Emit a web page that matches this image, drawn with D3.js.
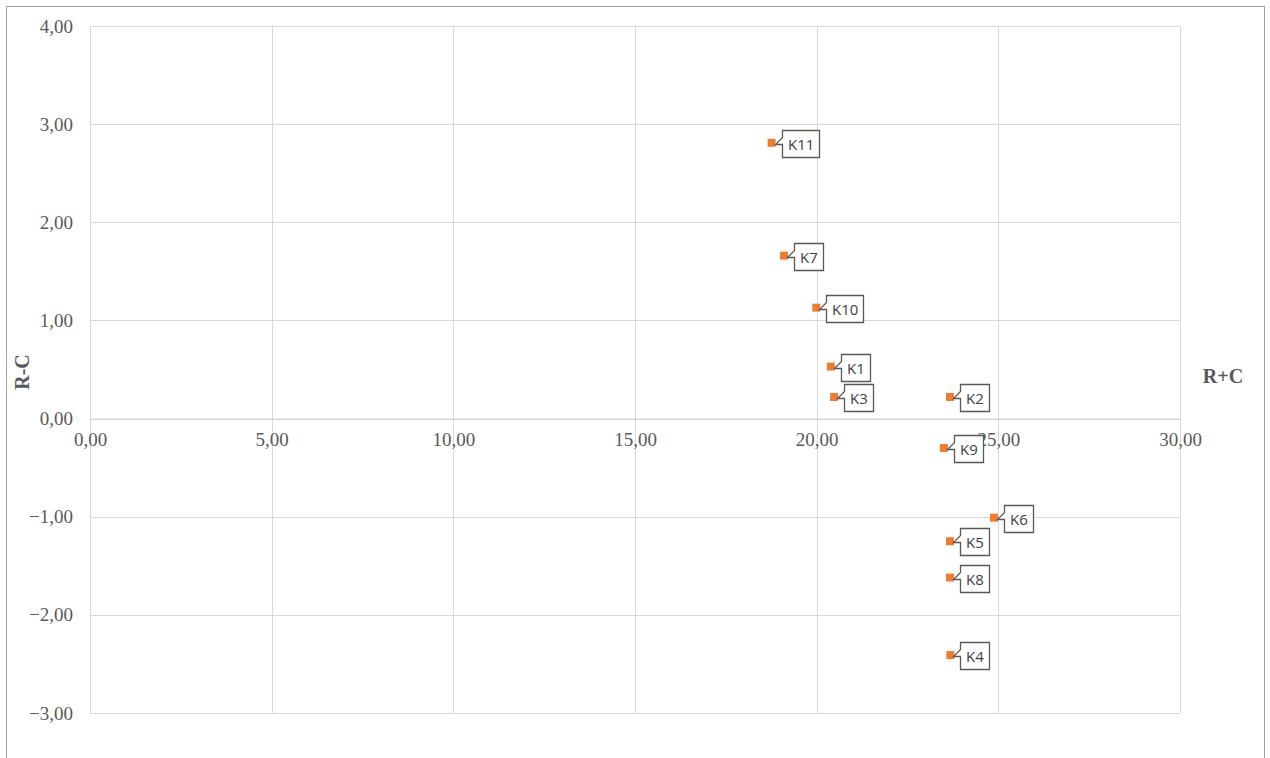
<!DOCTYPE html>
<html>
<head>
<meta charset="utf-8">
<script src="https://cdn.jsdelivr.net/npm/d3@7"></script>
<style>
  body { margin: 0; background: #fff; }
</style>
</head>
<body>
<div id="chart-area"></div>
<script>
// data
const names = ['K1','K2','K3','K4','K5','K6','K7','K8','K9','K10','K11']
const sumRC = [20.39, 23.67, 20.48, 23.68, 23.67, 24.88, 19.10, 23.67, 23.50, 19.99, 18.76]
const diffRC = [0.53, 0.22, 0.22, -2.41, -1.25, -1.01, 1.66, -1.62, -0.30, 1.13, 2.81]
const xTicks = [0, 5, 10, 15, 20, 25, 30]
const yTicks = [-3, -2, -1, 0, 1, 2, 3, 4]

const W = 1270, H = 758
const MARGIN = { LEFT: 90, RIGHT: 90, TOP: 26, BOTTOM: 45 }
const WIDTH = W - MARGIN.LEFT - MARGIN.RIGHT
const HEIGHT = H - MARGIN.TOP - MARGIN.BOTTOM

const fmt = d => d3.format('.2f')(d).replace('.', ',')

const svg = d3.select('#chart-area')
.append('svg')
.attr('width', W)
.attr('height', H)

// chart frame (bottom edge runs off the page)
svg.append('rect')
.attr('x', 6.5).attr('y', 6.5)
.attr('width', 1258).attr('height', 800)
.attr('fill', 'none')
.attr('stroke', '#a0a0a0')

const g = svg.append('g')
.attr('transform', `translate(${MARGIN.LEFT},${MARGIN.TOP})`)

const x = d3.scaleLinear().domain([0, 30]).range([0, WIDTH])
const y = d3.scaleLinear().domain([-3, 4]).range([HEIGHT, 0])

// gridlines
g.append('g')
.selectAll('line')
.data(xTicks)
.enter().append('line')
.attr('x1', d => Math.round(x(d)) + 0.5).attr('x2', d => Math.round(x(d)) + 0.5)
.attr('y1', 0).attr('y2', HEIGHT)
.attr('stroke', '#d9d9d9')

g.append('g')
.selectAll('line')
.data(yTicks)
.enter().append('line')
.attr('x1', 0).attr('x2', WIDTH)
.attr('y1', d => Math.round(y(d)) + 0.5).attr('y2', d => Math.round(y(d)) + 0.5)
.attr('stroke', '#d9d9d9')

// y axis labels
const yAxisCall = d3.axisLeft(y).tickValues(yTicks).tickFormat(fmt).tickSize(0).tickPadding(17)
const yAxis = g.append('g').attr('class', 'y axis').call(yAxisCall)
yAxis.select('.domain').remove()
yAxis.selectAll('text')
.attr('font-family', '"Liberation Serif", "Times New Roman", serif')
.attr('font-size', '19px')
.attr('fill', '#595959')

// x axis labels sit under the zero line
const xAxisCall = d3.axisBottom(x).tickValues(xTicks).tickFormat(fmt).tickSize(0).tickPadding(14)
const xAxis = g.append('g').attr('class', 'x axis')
.attr('transform', `translate(0,${y(0)})`)
.call(xAxisCall)
xAxis.select('.domain')
.attr('stroke', '#d0d0d0')
xAxis.selectAll('text')
.attr('font-family', '"Liberation Serif", "Times New Roman", serif')
.attr('font-size', '19px')
.attr('fill', '#595959')

// axis titles
svg.append('text')
.attr('transform', 'translate(29,372) rotate(-90)')
.attr('text-anchor', 'middle')
.attr('font-family', '"Liberation Serif", "Times New Roman", serif')
.attr('font-weight', 'bold')
.attr('font-size', '20px')
.attr('fill', '#595959')
.text('R-C')

svg.append('text')
.attr('x', 1223).attr('y', 383)
.attr('text-anchor', 'middle')
.attr('font-family', '"Liberation Serif", "Times New Roman", serif')
.attr('font-weight', 'bold')
.attr('font-size', '20px')
.attr('fill', '#595959')
.text('R+C')

const pts = names.map((n, i) => ({ name: n, sx: sumRC[i], dy: diffRC[i] }))

// markers
g.selectAll('rect.marker')
.data(pts)
.enter().append('rect')
.attr('class', 'marker')
.attr('x', d => x(d.sx) - 4)
.attr('y', d => y(d.dy) - 4)
.attr('width', 8).attr('height', 8)
.attr('fill', '#ED7D31')

// callout labels
const labels = g.selectAll('g.lbl')
.data(pts)
.enter().append('g')
.attr('class', 'lbl')
.attr('transform', d => `translate(${Math.round(x(d.sx)) + 0.5},${Math.round(y(d.dy)) + 0.5})`)

labels.append('text')
.attr('x', 0).attr('y', 0)
.attr('font-family', '"Open Sans", sans-serif')
.attr('font-size', '15px')
.attr('fill', '#404040')
.text(d => d.name)
.each(function (d) { d.tw = this.getComputedTextLength() })

labels.insert('path', 'text')
.attr('fill', '#fff')
.attr('stroke', '#595959')
.attr('stroke-width', 1.3)
.attr('d', d => {
  const l = 10, t = -13, w = Math.round(d.tw + 11), b = 14
  return `M${l},${t} H${l + w} V${b} H${l} V${t + 14} L${3},${1} L${l},${t + 7} Z`
})

labels.select('text')
.attr('x', 15.5)
.attr('y', 6)
</script>
</body>
</html>
